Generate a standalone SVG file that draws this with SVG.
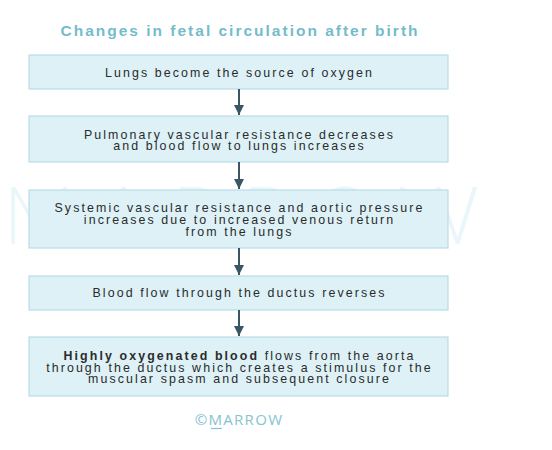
<svg xmlns="http://www.w3.org/2000/svg" width="552" height="450" viewBox="0 0 552 450">
<style>
.box{fill:#ddf1f7;stroke:#b9dde8;stroke-width:1.2}
.t{font-family:"Liberation Sans",Arial,sans-serif;font-size:12.4px;fill:#2b2b2b;text-anchor:middle;letter-spacing:2.1px}
.b{font-weight:bold}
.conn{stroke:#3a5663;stroke-width:2;fill:none}
</style>
<defs>
<marker id="ah" viewBox="0 0 10 10" refX="10" refY="5" markerWidth="5" markerHeight="5" orient="auto" markerUnits="strokeWidth">
<path d="M0,0 L10,5 L0,10 Z" fill="#3a5663"/>
</marker>
</defs>
<rect width="552" height="450" fill="#ffffff"/>
<text x="252" y="244" font-family="Lato,'Liberation Sans',sans-serif" font-weight="300" font-size="80" letter-spacing="22" text-anchor="middle" fill="#eaf6fa">MARROW</text>
<text x="240" y="36" font-family="'Liberation Sans',Arial,sans-serif" font-weight="bold" font-size="15.5" letter-spacing="2" text-anchor="middle" fill="#74bccb">Changes in fetal circulation after birth</text>
<g id="n1"><rect class="box" x="29" y="55" width="419" height="34"/><text class="t" x="239.5" y="77">Lungs become the source of oxygen</text></g>
<g id="n2"><rect class="box" x="29" y="116" width="419" height="46"/><text class="t" x="239.5" y="138.5">Pulmonary vascular resistance decreases</text><text class="t" x="239.5" y="150">and blood flow to lungs increases</text></g>
<g id="n3"><rect class="box" x="29" y="190" width="419" height="58"/><text class="t" x="239.5" y="211.5">Systemic vascular resistance and aortic pressure</text><text class="t" x="239.5" y="223.5">increases due to increased venous return</text><text class="t" x="239.5" y="235.5">from the lungs</text></g>
<g id="n4"><rect class="box" x="29" y="276" width="419" height="34"/><text class="t" x="239.5" y="297">Blood flow through the ductus reverses</text></g>
<g id="n5"><rect class="box" x="29" y="337" width="419" height="59"/><text class="t" x="239.5" y="359.5"><tspan class="b">Highly oxygenated blood</tspan> flows from the aorta</text><text class="t" x="239.5" y="371.5">through the ductus which creates a stimulus for the</text><text class="t" x="239.5" y="383">muscular spasm and subsequent closure</text></g>
<g id="connectors">
<line class="conn" x1="239" y1="89" x2="239" y2="115" marker-end="url(#ah)"/>
<line class="conn" x1="239" y1="162" x2="239" y2="189" marker-end="url(#ah)"/>
<line class="conn" x1="239" y1="248" x2="239" y2="275" marker-end="url(#ah)"/>
<line class="conn" x1="239" y1="310" x2="239" y2="336" marker-end="url(#ah)"/>
</g>
<text x="239" y="425" font-family="'Open Sans','Liberation Sans',sans-serif" font-size="15" letter-spacing="1.3" text-anchor="middle" fill="#86c3d2">©MARROW</text>
<line x1="211" y1="428.5" x2="222" y2="428.5" stroke="#86c3d2" stroke-width="1.2"/>
</svg>
